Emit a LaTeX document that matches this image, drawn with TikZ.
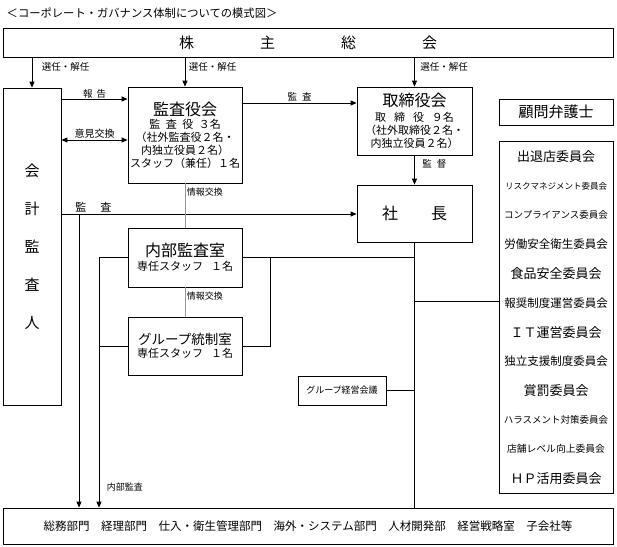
\documentclass[tikz,border=0pt]{standalone}
\usepackage{fontspec}
\setmainfont{Noto Sans CJK JP}
\usepackage{tikz}
\usetikzlibrary{arrows.meta,positioning}

\newcommand{\fs}[1]{\fontsize{#1}{#1}\selectfont}

\begin{document}
\begin{tikzpicture}[x=1pt, y=-1pt, line width=0.8pt,
    box/.style={draw, rectangle, inner sep=0pt, align=center},
    lbl/.style={font=\fs{9.5}, inner sep=1.5pt},
    arr/.style={-{Triangle[length=6pt,width=5pt]}},
    arrs/.style={{Triangle[length=6pt,width=5pt]}-{Triangle[length=6pt,width=5pt]}},
    info/.style={draw=black!40}]
    \useasboundingbox (0,0) rectangle (617,546);
    \node (title) [anchor=west, font=\fs{11.3}] at (3,13) {＜コーポレート・ガバナンス体制についての模式図＞};
    \node (AGM) [box, minimum width=610pt, minimum height=29pt, font=\fs{15}] at (308,42.5)
      {株\hspace{66pt}主\hspace{66pt}総\hspace{66pt}会};
    \node (auditor) [box, minimum width=58pt, minimum height=317pt, font=\fontsize{15}{38}\selectfont] at (32,246.5)
      {会\\計\\監\\査\\人};
    \node (kansa) [box, minimum width=114pt, minimum height=96pt, font=\fontsize{11}{13}\selectfont] at (185,135)
      {{\fs{16}監査役会}\\監\enspace 査\enspace 役\enspace ３名\\（社外監査役２名・\\内独立役員２名）\\スタッフ（兼任）１名};
    \node (board) [box, minimum width=115pt, minimum height=68pt, font=\fontsize{11}{13}\selectfont] at (414.5,121)
      {{\fs{16}取締役会}\\[2pt]取\hspace{8pt}締\hspace{8pt}役\hspace{8pt}９名\\（社外取締役２名・\\内独立役員２名）};
    \node (CEO) [box, minimum width=115pt, minimum height=57pt, font=\fs{16}] at (414.5,213.5)
      {社\hspace{33pt}長};
    \node (internal) [box, minimum width=114pt, minimum height=59pt, font=\fontsize{11}{14}\selectfont] at (185,257.5)
      {{\fs{16}内部監査室}\\専任スタッフ\hspace{8pt}１名};
    \node (control) [box, minimum width=114pt, minimum height=58pt, font=\fontsize{11}{13.5}\selectfont] at (185,346)
      {{\fs{13.5}グループ統制室}\\専任スタッフ\hspace{8pt}１名};
    \node (meeting) [box, minimum width=88pt, minimum height=29pt, font=\fs{9}] at (342,390.5) {グループ経営会議};
    \node (lawyer) [box, minimum width=114pt, minimum height=26pt, font=\fs{15}] at (556,112) {顧問弁護士};
    \node (committees) [box, minimum width=114pt, minimum height=352pt] at (556,317) {};
    \foreach \s/\t [count=\i from 0] in {13/出退店委員会, 8.5/リスクマネジメント委員会, 9.5/コンプライアンス委員会,
        11.5/労働安全衛生委員会, 13/食品安全委員会, 11.5/報奨制度運営委員会, 13/ＩＴ運営委員会,
        11.5/独立支援制度委員会, 13/賞罰委員会, 9.5/ハラスメント対策委員会, 9.8/店舗レベル向上委員会, 13/ＨＰ活用委員会}
      \node (c\i) [font=\fs{\s}, inner sep=0pt] at (556,{157+29.2*\i}) {\t};
    \node (depts) [box, minimum width=610pt, minimum height=36pt, font=\fs{11.5}] at (308,526)
      {総務部門　経理部門　仕入・衛生管理部門　海外・システム部門　人材開発部　経営戦略室　子会社等};

    % election
    \draw[arr] (auditor.north |- AGM.south) -- (auditor.north)
      node[lbl, right, pos=0.32, xshift=8pt] {選任・解任};
    \draw[arr] (kansa.north |- AGM.south) -- (kansa.north)
      node[lbl, right, pos=0.32, xshift=2pt] {選任・解任};
    \draw[arr] (board.north |- AGM.south) -- (board.north)
      node[lbl, right, pos=0.32, xshift=4pt] {選任・解任};
    % auditors
    \draw[arr] (auditor.east |- 0,99) -- (kansa.west |- 0,99)
      node[lbl, above, midway, inner sep=0.5pt] {報\hspace{4pt}告};
    \draw[arrs] (auditor.east |- 0,140) -- (kansa.west |- 0,140)
      node[lbl, above, midway, font=\fs{10}] {意見交換};
    \draw[arr] (kansa.east |- 0,103) -- (board.west |- 0,103)
      node[lbl, above, midway, inner sep=2pt] {監\hspace{5pt}査};
    \draw[arr] (board.south) -- (CEO.north)
      node[lbl, right, pos=0.3, xshift=6pt] {監\hspace{5pt}督};
    \draw[arr] (auditor.east |- 0,214) -- (CEO.west |- 0,214)
      node[at start, above right, font=\fs{11}, inner sep=1.5pt, xshift=12pt] {監\hspace{14pt}査};
    \coordinate (audit) at (79,214);
    \draw[arr] (audit) -- (depts.north -| audit);
    % information exchange
    \draw[info] (kansa.south) -- (internal.north)
      node[lbl, right, pos=0.2, font=\fs{9}] {情報交換};
    \draw[info] (internal.south) -- (control.north)
      node[lbl, right, pos=0.3, font=\fs{9}] {情報交換};
    % internal audit
    \draw[arr] (internal.west) -| (depts.north -| 99,0)
      node[lbl, right, pos=0.958, xshift=6pt, font=\fs{9}] {内部監査};
    \draw (control.west) -- (control.west -| 99,0);
    \draw (internal.east) -- ++(28,0) |- (control.east);
    \draw (internal.east) -- (internal.east -| CEO.south);
    % president
    \draw (CEO.south) -- (CEO.south |- depts.north);
    \draw (CEO.south |- 0,301) -- (committees.west |- 0,301);
    \draw (meeting.east) -- (meeting.east -| CEO.south);
\end{tikzpicture}
\end{document}
